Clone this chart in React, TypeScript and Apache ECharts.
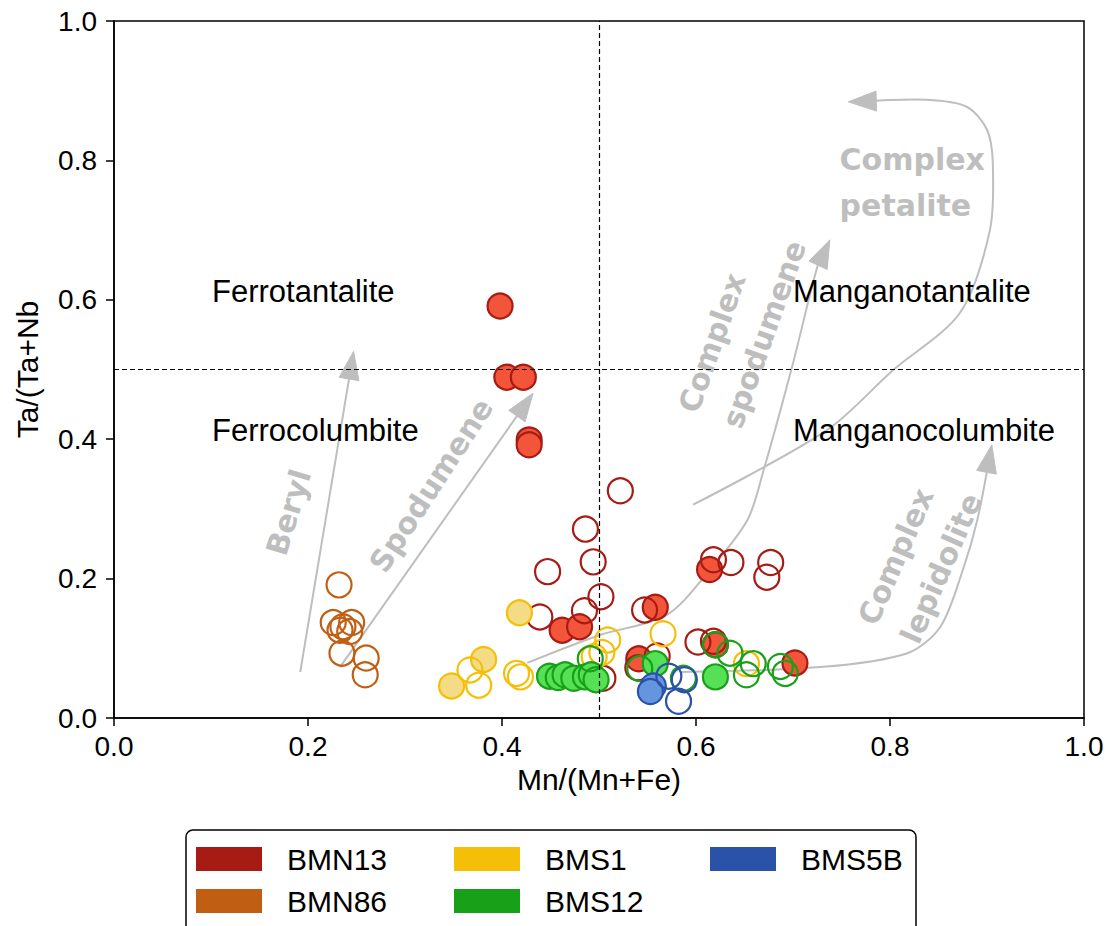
import React, { useEffect, useRef } from "react";
import * as echarts from "echarts";

// ---------- data (x = Mn/(Mn+Fe), y = Ta/(Ta+Nb)) ----------
const xTickValues = [0, 0.2, 0.4, 0.6, 0.8, 1.0];
const yTickValues = [0, 0.2, 0.4, 0.6, 0.8, 1.0];

const BMN13_filled: number[][] = [
  [0.398, 0.591], [0.405, 0.489], [0.422, 0.489], [0.428, 0.399], [0.428, 0.392],
  [0.462, 0.126], [0.480, 0.131], [0.558, 0.159], [0.541, 0.085], [0.614, 0.213],
  [0.620, 0.105], [0.702, 0.079],
];
const BMN13_hollow: number[][] = [
  [0.522, 0.326], [0.486, 0.271], [0.494, 0.224], [0.447, 0.210], [0.502, 0.174],
  [0.485, 0.154], [0.439, 0.145], [0.504, 0.057], [0.547, 0.155], [0.540, 0.072],
  [0.560, 0.089], [0.618, 0.227], [0.636, 0.223], [0.677, 0.223], [0.673, 0.202],
  [0.602, 0.109], [0.618, 0.110],
];
const BMN86_hollow: number[][] = [
  [0.232, 0.191], [0.226, 0.137], [0.236, 0.131], [0.245, 0.137], [0.243, 0.124],
  [0.233, 0.126], [0.235, 0.093], [0.260, 0.086], [0.259, 0.062],
];
const BMS1_filled: number[][] = [
  [0.418, 0.151], [0.381, 0.084], [0.348, 0.046],
];
const BMS1_hollow: number[][] = [
  [0.367, 0.069], [0.376, 0.047], [0.415, 0.064], [0.419, 0.059], [0.509, 0.112],
  [0.503, 0.094], [0.495, 0.088], [0.566, 0.121], [0.652, 0.078],
];
const BMS12_filled: number[][] = [
  [0.449, 0.060], [0.458, 0.058], [0.465, 0.062], [0.474, 0.057], [0.486, 0.059],
  [0.492, 0.062], [0.497, 0.055], [0.558, 0.078], [0.620, 0.059],
];
const BMS12_hollow: number[][] = [
  [0.491, 0.085], [0.542, 0.071], [0.587, 0.057], [0.620, 0.105], [0.635, 0.093],
  [0.652, 0.062], [0.659, 0.078], [0.687, 0.074], [0.692, 0.064],
];
const BMS5B_filled: number[][] = [
  [0.556, 0.046], [0.553, 0.038],
];
const BMS5B_hollow: number[][] = [
  [0.572, 0.060], [0.588, 0.055], [0.582, 0.024],
];

// trend arrows (data coordinates along each path, last point = arrow tip)
const berylPath: number[][] = [[0.192, 0.066], [0.247, 0.526]];
const spodumenePath: number[][] = [[0.233, 0.073], [0.432, 0.466]];
const complexSpodumenePath: number[][] = [
  [0.426, 0.079], [0.501, 0.119], [0.570, 0.148], [0.614, 0.212], [0.653, 0.284],
  [0.669, 0.352], [0.700, 0.509], [0.725, 0.647], [0.738, 0.686],
];
const complexPetalitePath: number[][] = [
  [0.597, 0.306], [0.735, 0.413], [0.803, 0.499], [0.872, 0.581], [0.903, 0.700],
  [0.906, 0.796], [0.900, 0.844], [0.879, 0.877], [0.838, 0.887], [0.757, 0.884],
];
const complexLepidolitePath: number[][] = [
  [0.584, 0.066], [0.728, 0.073], [0.818, 0.093], [0.852, 0.131], [0.875, 0.212],
  [0.890, 0.284], [0.905, 0.392],
];

// text annotations
const regionLabels = [
  { text: "Ferrotantalite", x: 0.101, y: 0.612 },
  { text: "Ferrocolumbite", x: 0.101, y: 0.412 },
  { text: "Manganotantalite", x: 0.700, y: 0.612 },
  { text: "Manganocolumbite", x: 0.700, y: 0.412 },
];
const trendLabels = [
  { text: "Beryl", x: 0.180, y: 0.295, rot: 73, align: "center" },
  { text: "Spodumene", x: 0.327, y: 0.334, rot: 57, align: "center" },
  { text: "Complex\nspodumene", x: 0.614, y: 0.429, rot: 70.5, align: "left" },
  { text: "Complex\npetalite", x: 0.748, y: 0.768, rot: 0, align: "left" },
  { text: "Complex\nlepidolite", x: 0.798, y: 0.123, rot: 66.5, align: "left" },
];

// ---------- styles ----------
const GREY = "#BEBEBE";
const SAMPLES = [
  { name: "BMN13", edge: "#A61B14", face: "#F2553A", filled: BMN13_filled, hollow: BMN13_hollow },
  { name: "BMN86", edge: "#C05F14", face: "#E08A40", filled: [] as number[][], hollow: BMN86_hollow },
  { name: "BMS1", edge: "#F5BF08", face: "#F4DC86", filled: BMS1_filled, hollow: BMS1_hollow },
  { name: "BMS12", edge: "#18A018", face: "#55E055", filled: BMS12_filled, hollow: BMS12_hollow },
  { name: "BMS5B", edge: "#2A52A8", face: "#6695E0", filled: BMS5B_filled, hollow: BMS5B_hollow },
];

function arrowSeries(pts: number[][], smooth: number): any {
  return {
    type: "custom",
    coordinateSystem: "cartesian2d",
    silent: true,
    clip: false,
    z: 1,
    data: [pts[pts.length - 1]],
    renderItem: (_params: any, api: any) => {
      const p = pts.map((q) => api.coord(q));
      const tip = p[p.length - 1];
      const prev = p[p.length - 2];
      const dx = tip[0] - prev[0];
      const dy = tip[1] - prev[1];
      const L = Math.hypot(dx, dy) || 1;
      const ux = dx / L;
      const uy = dy / L;
      const hl = 28;
      const hw = 10;
      const base = [tip[0] - ux * hl, tip[1] - uy * hl];
      const left = [base[0] - uy * hw, base[1] + ux * hw];
      const right = [base[0] + uy * hw, base[1] - ux * hw];
      const linePts = p.slice(0, -1).concat([[tip[0] - ux * 10, tip[1] - uy * 10]]);
      return {
        type: "group",
        children: [
          {
            type: "polyline",
            shape: { points: linePts, smooth },
            style: { stroke: GREY, lineWidth: 2, fill: null },
          },
          {
            type: "polygon",
            shape: { points: [tip, left, right] },
            style: { fill: GREY, stroke: GREY, lineWidth: 1 },
          },
        ],
      };
    },
  };
}

function textSeries(items: any[], font: any, z: number): any {
  return {
    type: "custom",
    coordinateSystem: "cartesian2d",
    silent: true,
    clip: false,
    z,
    data: items.map((t) => [t.x, t.y]),
    renderItem: (params: any, api: any) => {
      const t = items[params.dataIndex];
      const p = api.coord([api.value(0), api.value(1)]);
      return {
        type: "text",
        x: p[0],
        y: p[1],
        rotation: ((t.rot || 0) * Math.PI) / 180,
        style: {
          text: t.text,
          align: t.align || "left",
          verticalAlign: "middle",
          ...font,
        },
      };
    },
  };
}

export default function App() {
  const ref = useRef<HTMLDivElement>(null);

  useEffect(() => {
    if (!ref.current) return;
    const chart = echarts.init(ref.current, null, { renderer: "svg" });

    const scatterSeries: any[] = [];
    SAMPLES.forEach((s) => {
      if (s.filled.length) {
        scatterSeries.push({
          name: s.name,
          type: "scatter",
          symbol: "circle",
          symbolSize: 25,
          z: 2,
          data: s.filled,
          itemStyle: { color: s.face, borderColor: s.edge, borderWidth: 2.2, opacity: 1 },
          emphasis: { disabled: true },
        });
      }
      scatterSeries.push({
        name: s.name,
        type: "scatter",
        symbol: "circle",
        symbolSize: 25,
        z: 2,
        data: s.hollow,
        itemStyle: { color: "rgba(255,255,255,0)", borderColor: s.edge, borderWidth: 2.2, opacity: 1 },
        emphasis: { disabled: true },
      });
    });

    const dividerSeries = {
      type: "scatter",
      name: "dividers",
      data: [],
      z: 1,
      silent: true,
      markLine: {
        silent: true,
        symbol: "none",
        label: { show: false },
        lineStyle: { color: "#000", type: [5, 3], width: 1.2 },
        data: [{ xAxis: 0.5 }, { yAxis: 0.5 }],
      },
    };

    const legItem = (name: string) => {
      const s = SAMPLES.find((q) => q.name === name)!;
      return { name, icon: "rect", itemStyle: { color: s.edge, borderWidth: 0, opacity: 1 } };
    };
    const legendCommon = {
      orient: "vertical",
      top: 839,
      itemWidth: 66,
      itemHeight: 24,
      itemGap: 12,
      selectedMode: false,
      z: 5,
      textStyle: {
        fontSize: 30,
        fontFamily: "Liberation Sans",
        color: "#000",
        padding: [0, 0, 0, 20],
        lineHeight: 30,
      },
    };

    const axisCommon = {
      type: "value",
      min: 0,
      max: 1,
      interval: 0.2,
      splitLine: { show: false },
      axisLine: { show: true, lineStyle: { color: "#000", width: 1.5 } },
      axisTick: { show: true, length: 8, lineStyle: { color: "#000", width: 1.5 } },
      nameTextStyle: { fontSize: 30, fontFamily: "Liberation Sans", color: "#000" },
    };

    chart.setOption({
      animation: false,
      backgroundColor: "#fff",
      grid: {
        left: 114,
        top: 21,
        width: 970,
        height: 697,
        show: true,
        borderColor: "#000",
        borderWidth: 1.5,
        backgroundColor: "transparent",
      },
      xAxis: {
        ...axisCommon,
        name: "Mn/(Mn+Fe)",
        nameLocation: "middle",
        nameGap: 33,
        axisLabel: {
          color: "#000",
          fontSize: 28,
          fontFamily: "Liberation Sans",
          margin: 14,
          formatter: (v: number) => (xTickValues.some((t) => Math.abs(t - v) < 1e-9) ? v.toFixed(1) : ""),
        },
      },
      yAxis: {
        ...axisCommon,
        name: "Ta/(Ta+Nb",
        nameLocation: "middle",
        nameRotate: 90,
        nameGap: 72,
        axisLabel: {
          color: "#000",
          fontSize: 28,
          fontFamily: "Liberation Sans",
          margin: 17,
          formatter: (v: number) => (yTickValues.some((t) => Math.abs(t - v) < 1e-9) ? v.toFixed(1) : ""),
        },
      },
      legend: [
        { ...legendCommon, left: 191, data: [legItem("BMN13"), legItem("BMN86")] },
        { ...legendCommon, left: 449, data: [legItem("BMS1"), legItem("BMS12")] },
        { ...legendCommon, left: 705, data: [legItem("BMS5B")] },
      ],
      graphic: [
        {
          type: "rect",
          x: 186,
          y: 830,
          z: 0,
          shape: { x: 0, y: 0, width: 730, height: 130, r: 7 },
          style: { fill: "#fff", stroke: "#000", lineWidth: 1.5 },
        },
      ],
      series: [
        dividerSeries,
        arrowSeries(berylPath, 0),
        arrowSeries(spodumenePath, 0),
        arrowSeries(complexSpodumenePath, 0.3),
        arrowSeries(complexPetalitePath, 0.3),
        arrowSeries(complexLepidolitePath, 0.3),
        textSeries(
          trendLabels,
          { fill: GREY, fontSize: 30, fontFamily: "DejaVu Sans", fontWeight: "bold", lineHeight: 46 },
          1
        ),
        textSeries(
          regionLabels,
          { fill: "#000", fontSize: 31, fontFamily: "Liberation Sans", fontWeight: "normal" },
          3
        ),
        ...scatterSeries,
      ],
    });

    return () => chart.dispose();
  }, []);

  return (
    <div
      ref={ref}
      style={{ position: "fixed", left: 0, top: 0, width: 1111, height: 926, background: "#fff" }}
    />
  );
}
